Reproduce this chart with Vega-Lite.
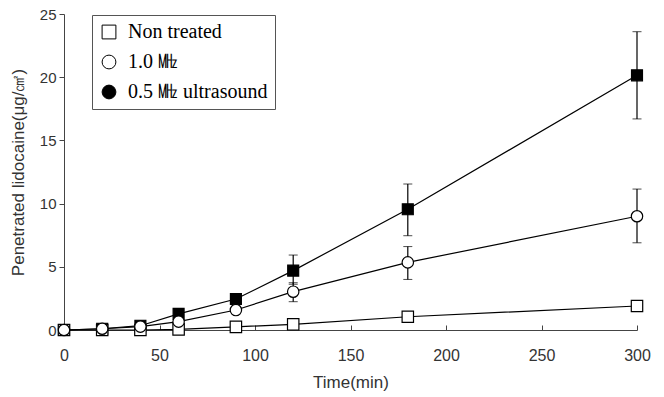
{
  "$schema": "https://vega.github.io/schema/vega-lite/v6.json",
  "autosize": {"type": "none"},
  "padding": {"left": 64, "top": 14, "right": 27, "bottom": 67},
  "width": 573,
  "height": 316,
  "background": "white",
  "config": {
    "view": {"stroke": null},
    "axis": {"grid": false, "labelFont": "Liberation Sans", "titleFont": "Liberation Sans", "labelColor": "#333", "titleColor": "#333", "domainColor": "#444", "tickColor": "#444", "labelFontSize": 15, "titleFontSize": 17, "titleFontWeight": "normal"}
  },
  "data": {
    "values": [
      {"t": 0, "s": "Non treated", "y": 0},
      {"t": 20, "s": "Non treated", "y": 0.0},
      {"t": 40, "s": "Non treated", "y": 0.0},
      {"t": 60, "s": "Non treated", "y": 0.05},
      {"t": 90, "s": "Non treated", "y": 0.25},
      {"t": 120, "s": "Non treated", "y": 0.45},
      {"t": 180, "s": "Non treated", "y": 1.05},
      {"t": 300, "s": "Non treated", "y": 1.9},
      {"t": 0, "s": "0.5 ㎒ ultrasound", "y": 0},
      {"t": 20, "s": "0.5 ㎒ ultrasound", "y": 0.1},
      {"t": 40, "s": "0.5 ㎒ ultrasound", "y": 0.34},
      {"t": 60, "s": "0.5 ㎒ ultrasound", "y": 1.27},
      {"t": 90, "s": "0.5 ㎒ ultrasound", "y": 2.45},
      {"t": 120, "s": "0.5 ㎒ ultrasound", "y": 4.7, "lo": 3.62, "hi": 5.93},
      {"t": 180, "s": "0.5 ㎒ ultrasound", "y": 9.55, "lo": 7.46, "hi": 11.55},
      {"t": 300, "s": "0.5 ㎒ ultrasound", "y": 20.15, "lo": 16.7, "hi": 23.6},
      {"t": 0, "s": "1.0 ㎒", "y": 0},
      {"t": 20, "s": "1.0 ㎒", "y": 0.1},
      {"t": 40, "s": "1.0 ㎒", "y": 0.27},
      {"t": 60, "s": "1.0 ㎒", "y": 0.66},
      {"t": 90, "s": "1.0 ㎒", "y": 1.58},
      {"t": 120, "s": "1.0 ㎒", "y": 3.03, "lo": 2.24, "hi": 3.74},
      {"t": 180, "s": "1.0 ㎒", "y": 5.35, "lo": 4.0, "hi": 6.6},
      {"t": 300, "s": "1.0 ㎒", "y": 9.0, "lo": 6.9, "hi": 11.15}
    ]
  },
  "encoding": {
    "x": {"field": "t", "type": "quantitative", "scale": {"domain": [0, 300], "nice": false},
      "axis": {"values": [0, 50, 100, 150, 200, 250, 300], "title": "Time(min)", "labelFontSize": 16, "labelFlush": false, "tickSize": -5, "labelPadding": 22, "titleY": 52, "titleBaseline": "middle"}},
    "y": {"field": "y", "type": "quantitative", "scale": {"domain": [0, 25], "nice": false},
      "axis": {"values": [0, 5, 10, 15, 20, 25], "title": "Penetrated lidocaine(μg/㎠)", "labelFlush": false, "tickSize": 5, "labelPadding": 3, "titleX": -46, "titleBaseline": "middle"}}
  },
  "layer": [
    {
      "mark": {"type": "line", "color": "black", "strokeWidth": 1.2},
      "encoding": {"detail": {"field": "s"}}
    },
    {
      "transform": [{"filter": "isValid(datum.lo)"}],
      "mark": {"type": "errorbar", "ticks": {"size": 9, "color": "black", "strokeWidth": 1.2}, "rule": {"color": "black", "strokeWidth": 1.2}},
      "encoding": {"y": {"field": "lo", "type": "quantitative"}, "y2": {"field": "hi"}}
    },
    {
      "transform": [{"filter": "datum.s == '0.5 ㎒ ultrasound'"}],
      "mark": {"type": "point", "shape": "square", "filled": true, "fill": "black", "stroke": "black", "strokeWidth": 1.2, "opacity": 1, "size": 120}
    },
    {
      "transform": [{"filter": "datum.s != '0.5 ㎒ ultrasound'"}],
      "mark": {"type": "point", "filled": false, "stroke": "black", "strokeWidth": 1.2, "opacity": 1, "fillOpacity": 1, "size": 130},
      "encoding": {
        "shape": {"field": "s", "type": "nominal", "scale": {"domain": ["Non treated", "1.0 ㎒", "0.5 ㎒ ultrasound"], "range": ["square", "circle", "circle"]},
          "legend": {"title": null, "orient": "none", "legendX": 28, "legendY": 1, "strokeColor": "#555", "fillColor": "white", "padding": 7, "rowPadding": 10, "labelFont": "Liberation Serif", "labelFontSize": 20, "labelColor": "black", "symbolSize": 190, "symbolStrokeWidth": 1, "symbolOpacity": 1, "labelOffset": 9,
            "labelExpr": "datum.label == '0.5 ㎒ ultrasound' ? ' ' + datum.label : datum.label"}},
        "fill": {"field": "s", "type": "nominal", "scale": {"domain": ["Non treated", "1.0 ㎒", "0.5 ㎒ ultrasound"], "range": ["white", "white", "black"]}}
      }
    }
  ]
}
